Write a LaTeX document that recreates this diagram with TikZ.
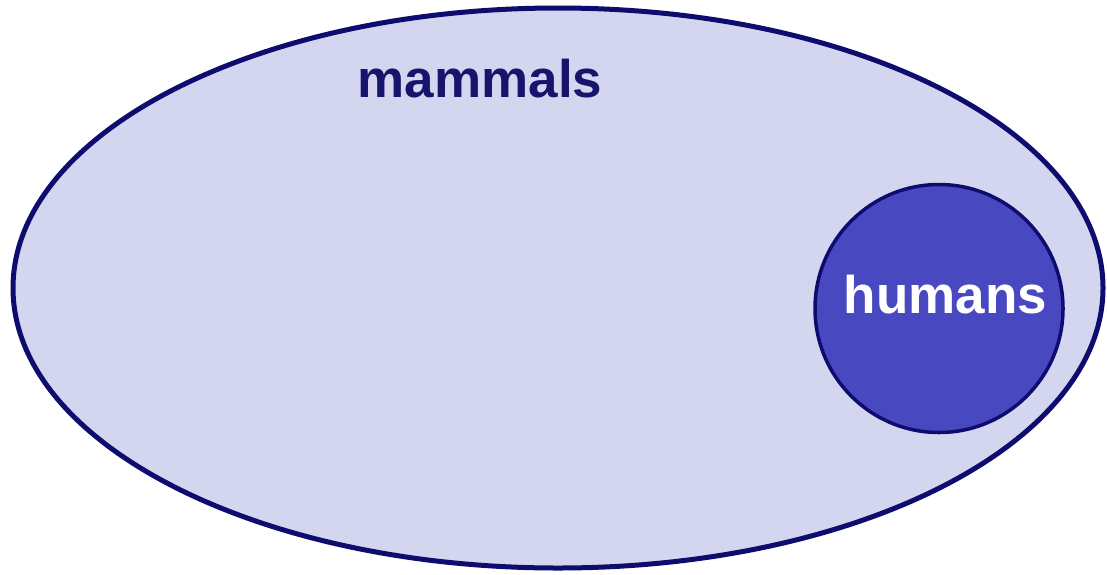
\documentclass[tikz,border=0pt]{standalone}
\usepackage{fontspec}
\setmainfont{Liberation Sans}
\usetikzlibrary{shapes.geometric}
\definecolor{setfill}{RGB}{212,214,240}
\definecolor{setline}{RGB}{14,12,110}
\definecolor{subfill}{RGB}{72,72,192}
\definecolor{labelnavy}{RGB}{22,20,108}
\tikzset{
  outerset/.style={ellipse, draw=setline, line width=5pt, fill=setfill, inner sep=0pt,
    minimum width=1090pt, minimum height=560pt},
  innerset/.style={circle, draw=setline, line width=3.5pt, fill=subfill, inner sep=0pt,
    minimum size=248pt},
  setlabel/.style={font=\fontsize{53}{60}\selectfont\bfseries, inner sep=0pt, anchor=base},
}
\begin{document}
\begin{tikzpicture}[x=1pt,y=-1pt]
\useasboundingbox (0,0) rectangle (1107,574);
\node[outerset] (mammalset) at (558,288) {};
\node[innerset] (humanset) at (939,308.5) {};
\node[setlabel, text=labelnavy] (mammals) at (480,97) {mammals};
\node[setlabel, text=white] (humans) at (945.5,313) {humans};
\end{tikzpicture}
\end{document}
